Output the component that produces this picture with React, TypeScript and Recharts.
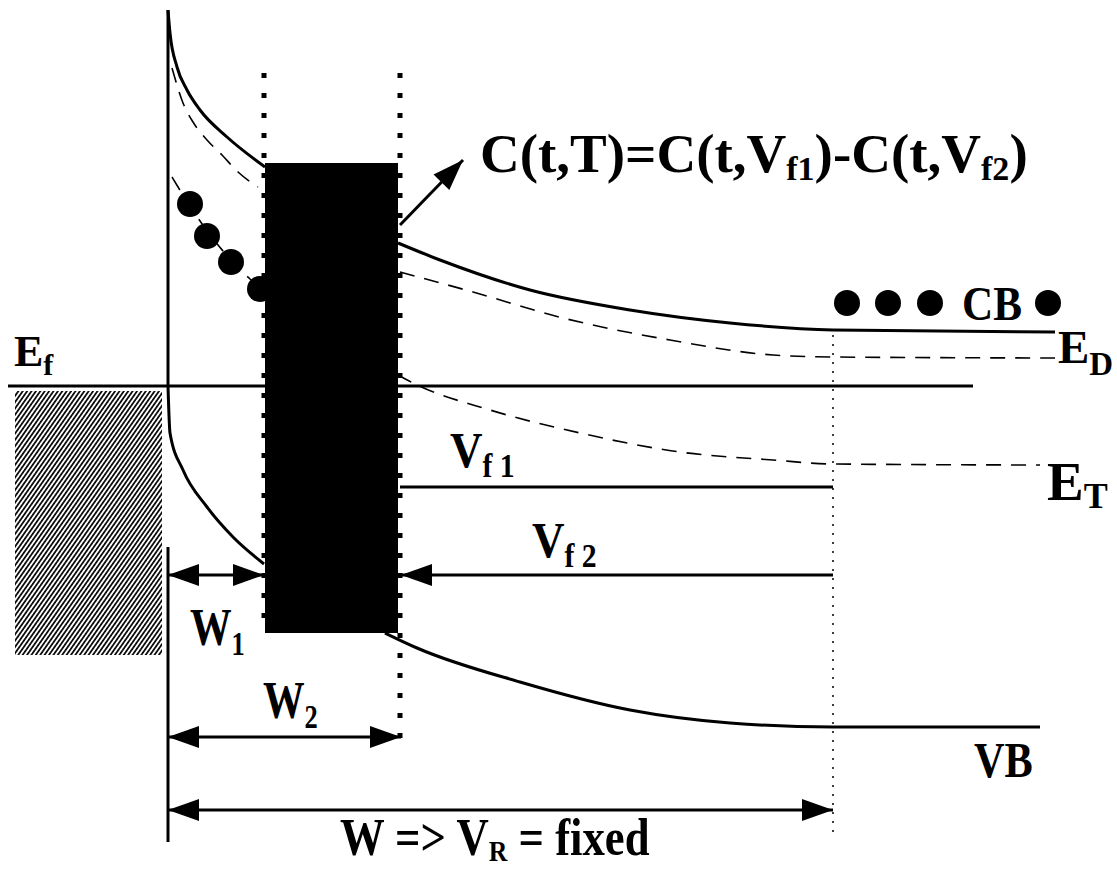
import React from "react";
import {
  ComposedChart,
  Line,
  Scatter,
  XAxis,
  YAxis,
  ReferenceLine,
  ReferenceArea,
} from "recharts";

const WIDTH = 1117;
const HEIGHT = 869;

// Band edges in diagram units (x to the right, y downward).
// Each curve is split at the trap region so nothing has to pass behind it.
const cbLeft = [
  { x: 168, y: 10 },
  { x: 170, y: 33 },
  { x: 177, y: 67 },
  { x: 187, y: 90 },
  { x: 200, y: 110 },
  { x: 227, y: 137 },
  { x: 265, y: 167 },
];
const cbRight = [
  { x: 398, y: 243 },
  { x: 440, y: 260 },
  { x: 530, y: 290 },
  { x: 630, y: 310 },
  { x: 730, y: 323 },
  { x: 833, y: 330 },
  { x: 1055, y: 332 },
];
const edLeft = [
  { x: 172, y: 68 },
  { x: 183, y: 103 },
  { x: 193, y: 122 },
  { x: 207, y: 140 },
  { x: 222, y: 155 },
  { x: 238, y: 172 },
  { x: 258, y: 187 },
];
const edRight = [
  { x: 400, y: 272 },
  { x: 473, y: 292 },
  { x: 563, y: 318 },
  { x: 670, y: 340 },
  { x: 773, y: 355 },
  { x: 833, y: 357 },
  { x: 1055, y: 358 },
];
const etLeft = [
  { x: 172, y: 177 },
  { x: 188, y: 203 },
  { x: 205, y: 228 },
  { x: 230, y: 259 },
  { x: 250, y: 279 },
  { x: 264, y: 290 },
];
const etRight = [
  { x: 398, y: 375 },
  { x: 413, y: 383 },
  { x: 490, y: 410 },
  { x: 580, y: 433 },
  { x: 680, y: 452 },
  { x: 773, y: 460 },
  { x: 833, y: 464 },
  { x: 1040, y: 465 },
];
const vbLeft = [
  { x: 168, y: 386 },
  { x: 170, y: 433 },
  { x: 183, y: 470 },
  { x: 207, y: 507 },
  { x: 233, y: 537 },
  { x: 264, y: 564 },
];
const vbRight = [
  { x: 385, y: 633 },
  { x: 417, y: 648 },
  { x: 520, y: 682 },
  { x: 630, y: 710 },
  { x: 730, y: 723 },
  { x: 833, y: 727 },
  { x: 1040, y: 727 },
];

// electrons: trapped near the interface, free in the conduction band
const trappedElectrons = [
  { x: 190, y: 204 },
  { x: 207, y: 236 },
  { x: 231, y: 262 },
  { x: 260, y: 289 },
];
const freeElectrons = [
  { x: 847, y: 303 },
  { x: 888, y: 303 },
  { x: 930, y: 303 },
  { x: 1048, y: 303 },
];

// straight solid levels
const levels = [
  { x1: 168, y1: 10, x2: 168, y2: 386 }, // interface
  { x1: 8, y1: 386, x2: 973, y2: 386 }, // Fermi level
  { x1: 400, y1: 487, x2: 833, y2: 487 }, // Vf1
  { x1: 168, y1: 547, x2: 168, y2: 842 }, // width origin
];

// arrows: the head sits on (x2, y2), and also on (x1, y1) when both is set
const arrows = [
  { x1: 168, y1: 575, x2: 264, y2: 575, both: true }, // W1
  { x1: 833, y1: 575, x2: 401, y2: 575, both: false }, // Vf2
  { x1: 168, y1: 737, x2: 401, y2: 737, both: true }, // W2
  { x1: 168, y1: 810, x2: 833, y2: 810, both: true }, // W
  { x1: 400, y1: 225, x2: 463, y2: 160, both: false }, // to the formula
];

// the trap-filling pulse region and the metal contact
const pulseBox = { x1: 265, x2: 398, y1: 163, y2: 633 };
const metal = { x1: 15, x2: 162, y1: 391, y2: 655 };

// pulse edges (heavy dots) and depletion edge (fine dots)
const pulseEdges = [
  { x: 264, y1: 73, y2: 633 },
  { x: 400, y1: 73, y2: 747 },
];
const depletionEdge = { x: 833, y1: 335, y2: 838 };

const labels = [
  { id: "eq", x: 480, y: 172, text: "C(t,T)=C(t,V_{f1})-C(t,V_{f2})" },
  { id: "ef", x: 14, y: 366, text: "E_{f}" },
  { id: "cb", x: 962, y: 320, text: "CB" },
  { id: "ed", x: 1058, y: 363, text: "E_{D}" },
  { id: "et", x: 1047, y: 500, text: "E_{T}" },
  { id: "vf1", x: 450, y: 467, text: "V_{f 1}" },
  { id: "vf2", x: 532, y: 557, text: "V_{f 2}" },
  { id: "w1", x: 190, y: 645, text: "W_{1}" },
  { id: "w2", x: 263, y: 718, text: "W_{2}" },
  { id: "vb", x: 974, y: 777, text: "VB" },
  { id: "w", x: 340, y: 855, text: "W => V_{R} = fixed" },
];

const labelStyle: Record<string, { size: number; sub: number; shift: number; sx: number }> = {
  eq: { size: 55, sub: 34, shift: 8, sx: 1 },
  ef: { size: 44, sub: 30, shift: 9, sx: 1 },
  cb: { size: 48, sub: 30, shift: 0, sx: 0.9 },
  ed: { size: 47, sub: 33, shift: 12, sx: 1 },
  et: { size: 55, sub: 36, shift: 8, sx: 1 },
  vf1: { size: 50, sub: 33, shift: 10, sx: 0.9 },
  vf2: { size: 50, sub: 33, shift: 10, sx: 0.9 },
  w1: { size: 52, sub: 33, shift: 10, sx: 0.8 },
  w2: { size: 52, sub: 33, shift: 10, sx: 0.8 },
  vb: { size: 51, sub: 30, shift: 0, sx: 0.83 },
  w: { size: 52, sub: 30, shift: 6, sx: 0.86 },
};

const FONT = "'Liberation Serif', 'Times New Roman', serif";

const splitSub = (s: string) =>
  s
    .split(/(_\{[^}]*\})/)
    .filter(Boolean)
    .map((p) => (p.startsWith("_{") ? { t: p.slice(2, -1), sub: true } : { t: p, sub: false }));

const renderLabel = (props: any) => {
  const { cx, cy, payload } = props;
  const st = labelStyle[payload.id];
  let inSub = false;
  return (
    <text
      transform={`translate(${cx},${cy}) scale(${st.sx},1)`}
      fontFamily={FONT}
      fontWeight="bold"
      fontSize={st.size}
      fill="#000"
      style={{ whiteSpace: "pre" }}
    >
      {splitSub(payload.text).map((p, i) => {
        const dy = p.sub === inSub ? 0 : p.sub ? st.shift : -st.shift;
        inSub = p.sub;
        return (
          <tspan key={i} dy={dy} fontSize={p.sub ? st.sub : st.size}>
            {p.t}
          </tspan>
        );
      })}
    </text>
  );
};

const arrowHeads = arrows.flatMap((a) => {
  const angle = (Math.atan2(a.y2 - a.y1, a.x2 - a.x1) * 180) / Math.PI;
  const out = [{ x: a.x2, y: a.y2, angle }];
  if (a.both) out.push({ x: a.x1, y: a.y1, angle: angle + 180 });
  return out;
});

const renderHead = (props: any) => (
  <polygon
    points="0,0 -31,-11 -31,11"
    fill="#000"
    transform={`translate(${props.cx},${props.cy}) rotate(${props.payload.angle})`}
  />
);

const renderElectron = (props: any) => <circle cx={props.cx} cy={props.cy} r={13} fill="#000" />;

const solid = [cbLeft, cbRight, vbLeft, vbRight];
const dashed = [edLeft, edRight, etLeft, etRight];

export default function App() {
  return (
    <div style={{ position: "absolute", left: 0, top: 0, width: WIDTH, height: HEIGHT, background: "#fff" }}>
      <ComposedChart width={WIDTH} height={HEIGHT} margin={{ top: 0, right: 0, bottom: 0, left: 0 }}>
        <defs>
          <pattern id="hatch" patternUnits="userSpaceOnUse" width="3.6" height="3.6" patternTransform="rotate(35)">
            <line x1="1.8" y1="0" x2="1.8" y2="3.6" stroke="#000" strokeWidth="1.7" />
          </pattern>
        </defs>
        <XAxis type="number" dataKey="x" domain={[0, WIDTH]} allowDataOverflow hide />
        <YAxis type="number" dataKey="y" domain={[0, HEIGHT]} allowDataOverflow reversed hide />

        <ReferenceArea {...metal} fill="url(#hatch)" fillOpacity={1} stroke="none" ifOverflow="visible" />
        <ReferenceArea {...pulseBox} fill="#000" fillOpacity={1} stroke="none" ifOverflow="visible" />

        {levels.map((l, i) => (
          <ReferenceLine
            key={`lv${i}`}
            segment={[
              { x: l.x1, y: l.y1 },
              { x: l.x2, y: l.y2 },
            ]}
            stroke="#000"
            strokeWidth={3}
            ifOverflow="visible"
          />
        ))}
        {arrows.map((a, i) => (
          <ReferenceLine
            key={`ar${i}`}
            segment={[
              { x: a.x1, y: a.y1 },
              { x: a.x2, y: a.y2 },
            ]}
            stroke="#000"
            strokeWidth={3}
            ifOverflow="visible"
          />
        ))}
        {pulseEdges.map((e, i) => (
          <ReferenceLine
            key={`pe${i}`}
            segment={[
              { x: e.x, y: e.y1 },
              { x: e.x, y: e.y2 },
            ]}
            stroke="#000"
            strokeWidth={5}
            strokeDasharray="5 15"
            ifOverflow="visible"
          />
        ))}
        <ReferenceLine
          segment={[
            { x: depletionEdge.x, y: depletionEdge.y1 },
            { x: depletionEdge.x, y: depletionEdge.y2 },
          ]}
          stroke="#000"
          strokeWidth={1.5}
          strokeDasharray="2 7"
          ifOverflow="visible"
        />

        {solid.map((d, i) => (
          <Line
            key={`s${i}`}
            data={d}
            dataKey="y"
            type="monotone"
            stroke="#000"
            strokeWidth={3}
            dot={false}
            activeDot={false}
            isAnimationActive={false}
          />
        ))}
        {dashed.map((d, i) => (
          <Line
            key={`d${i}`}
            data={d}
            dataKey="y"
            type="monotone"
            stroke="#000"
            strokeWidth={1.6}
            strokeDasharray="15 10"
            dot={false}
            activeDot={false}
            isAnimationActive={false}
          />
        ))}

        <Scatter data={trappedElectrons} shape={renderElectron} isAnimationActive={false} />
        <Scatter data={freeElectrons} shape={renderElectron} isAnimationActive={false} />
        <Scatter data={arrowHeads} shape={renderHead} isAnimationActive={false} />
        <Scatter data={labels} shape={renderLabel} isAnimationActive={false} />
      </ComposedChart>
    </div>
  );
}
